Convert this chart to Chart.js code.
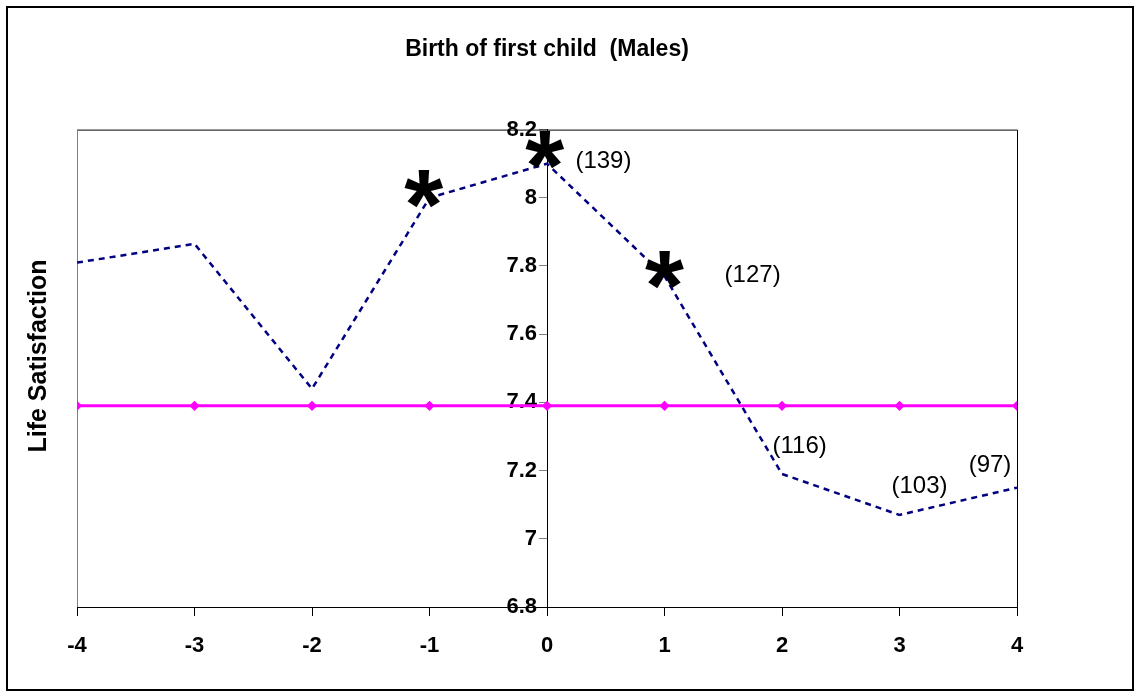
<!DOCTYPE html>
<html>
<head>
<meta charset="utf-8">
<script src="https://cdn.jsdelivr.net/npm/chart.js@4.4.0/dist/chart.umd.min.js"></script>
<style>
  html, body { margin: 0; padding: 0; background: #fff; }
  canvas { display: block; }
</style>
</head>
<body>
<canvas id="chart" width="1139" height="697"></canvas>
<script>
// years relative to birth of first child
const years = [-4, -3, -2, -1, 0, 1, 2, 3, 4];
const satisfaction = [7.81, 7.865, 7.44, 8.0, 8.10, 7.77, 7.19, 7.07, 7.15];
const baseline = [7.39, 7.39, 7.39, 7.39, 7.39, 7.39, 7.39, 7.39, 7.39];

// significance stars
const starX = [-1.05, -0.02, 1.0];
const starY = [8.025, 8.14, 7.787];

// sample sizes written next to the line
const nLabels = ['(139)', '(127)', '(116)', '(103)', '(97)'];
const nX = [0.48, 1.75, 2.15, 3.17, 3.77];
const nY = [8.106, 7.773, 7.27, 7.153, 7.214];

const FONT = '"Liberation Sans", Arial, sans-serif';
Chart.defaults.font.family = FONT;
Chart.defaults.color = '#000';

const decor = {
  id: 'decor',
  beforeDraw(chart) {
    const ctx = chart.ctx;
    ctx.save();
    ctx.fillStyle = '#fff';
    ctx.fillRect(0, 0, chart.width, chart.height);
    ctx.strokeStyle = '#000';
    ctx.lineWidth = 2;
    ctx.strokeRect(7, 7, 1126, 683);
    ctx.restore();
  },
  beforeDatasetsDraw(chart) {
    const ctx = chart.ctx;
    const a = chart.chartArea;
    ctx.save();
    ctx.lineWidth = 1;
    ctx.strokeStyle = '#000';
    ctx.beginPath();
    ctx.moveTo(a.left, a.top + 0.5);
    ctx.lineTo(a.right + 0.5, a.top + 0.5);
    ctx.lineTo(a.right + 0.5, a.bottom);
    ctx.stroke();
    ctx.strokeStyle = '#808080';
    ctx.beginPath();
    ctx.moveTo(a.left + 0.5, a.top);
    ctx.lineTo(a.left + 0.5, a.bottom);
    ctx.stroke();
    ctx.restore();
  },
  afterDatasetsDraw(chart) {
    const ctx = chart.ctx;
    const xs = chart.scales.x, ys = chart.scales.y;
    ctx.save();
    ctx.fillStyle = '#000';

    // stars, centred on their glyph box
    ctx.font = 'bold 100px ' + FONT;
    ctx.textAlign = 'left';
    ctx.textBaseline = 'alphabetic';
    const m = ctx.measureText('*');
    const gw = m.actualBoundingBoxRight + m.actualBoundingBoxLeft;
    const gh = m.actualBoundingBoxAscent + m.actualBoundingBoxDescent;
    starX.forEach((v, i) => {
      const cx = xs.getPixelForValue(v), cy = ys.getPixelForValue(starY[i]);
      ctx.fillText('*', cx - gw / 2 + m.actualBoundingBoxLeft, cy + gh / 2 - m.actualBoundingBoxDescent);
    });

    // sample sizes
    ctx.font = '24px ' + FONT;
    ctx.textAlign = 'center';
    ctx.textBaseline = 'middle';
    nLabels.forEach((t, i) => {
      ctx.fillText(t, xs.getPixelForValue(nX[i]), ys.getPixelForValue(nY[i]));
    });

    // y axis title
    ctx.font = 'bold 25px ' + FONT;
    ctx.translate(39, 356);
    ctx.rotate(-Math.PI / 2);
    ctx.fillText('Life Satisfaction', 0, 0);
    ctx.restore();
  }
};

new Chart(document.getElementById('chart'), {
  type: 'line',
  data: {
    datasets: [
      {
        data: years.map((x, i) => ({ x, y: satisfaction[i] })),
        borderColor: '#000080',
        borderWidth: 2.5,
        borderDash: [6, 5],
        pointRadius: 0,
        tension: 0
      },
      {
        data: years.map((x, i) => ({ x, y: baseline[i] })),
        borderColor: '#FF00FF',
        backgroundColor: '#FF00FF',
        borderWidth: 3,
        pointStyle: 'rectRot',
        pointRadius: 3,
        tension: 0
      }
    ]
  },
  options: {
    responsive: false,
    devicePixelRatio: 1,
    animation: false,
    layout: { padding: { left: 77, right: 122, top: 0, bottom: 90 } },
    plugins: {
      legend: { display: false },
      tooltip: { enabled: false },
      title: {
        display: true,
        text: 'Birth of first child  (Males)',
        font: { size: 23, weight: 'bold' },
        color: '#000',
        padding: { top: 36, bottom: 66 }
      }
    },
    scales: {
      x: {
        type: 'linear',
        position: { y: 6.8 },
        min: -4,
        max: 4,
        ticks: { stepSize: 1, font: { size: 22, weight: 'bold' }, color: '#000', padding: 18, maxRotation: 0 },
        grid: { drawOnChartArea: false, drawTicks: true, tickLength: 8, color: '#000' },
        border: { display: true, color: '#000', width: 1 }
      },
      // axis line and tick marks at x = 0
      y: {
        type: 'linear',
        position: { x: 0 },
        min: 6.8,
        max: 8.2,
        ticks: { stepSize: 0.2, display: false },
        grid: { drawOnChartArea: false, drawTicks: true, tickLength: 8, color: '#808080' },
        border: { display: true, color: '#000', width: 1 }
      },
      // tick labels, set just left of the axis line
      yLabels: {
        type: 'linear',
        axis: 'y',
        position: { x: -0.085 },
        min: 6.8,
        max: 8.2,
        ticks: {
          stepSize: 0.2,
          font: { size: 22, weight: 'bold' },
          color: '#000',
          callback: v => String(+v.toFixed(1))
        },
        grid: { display: false },
        border: { display: false }
      }
    }
  },
  plugins: [decor]
});
</script>
</body>
</html>
